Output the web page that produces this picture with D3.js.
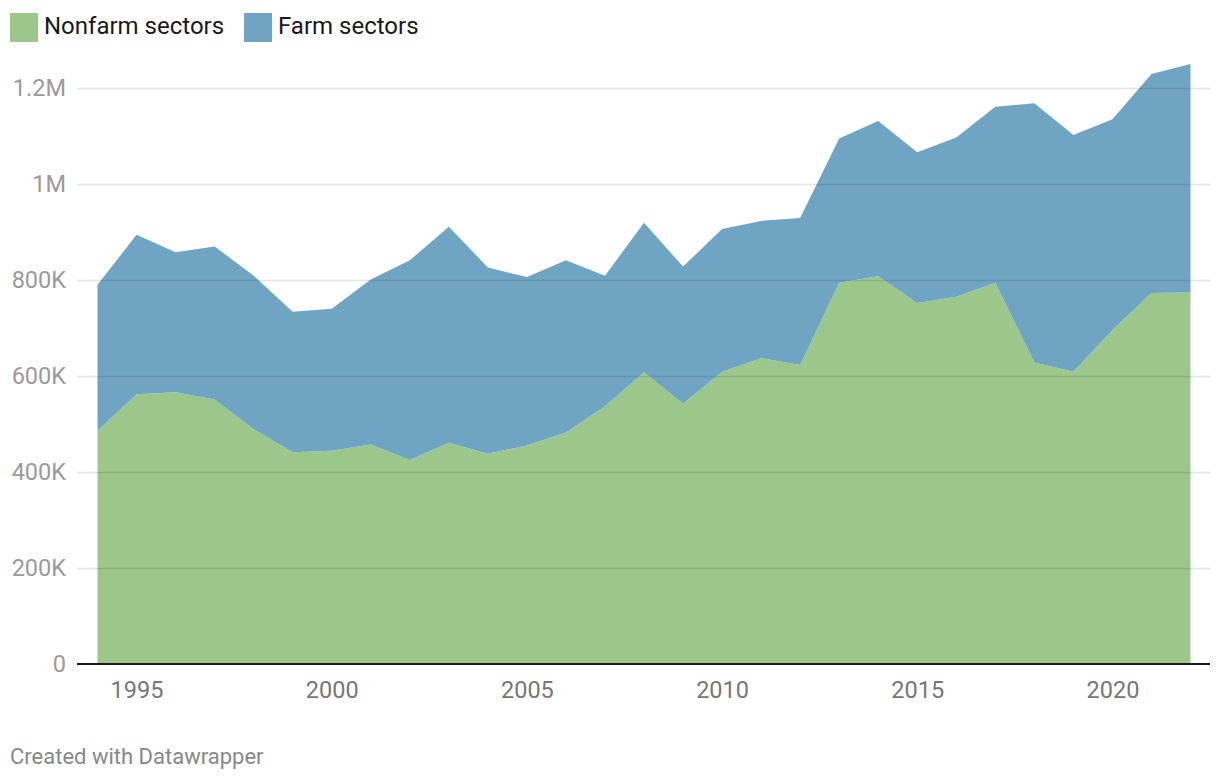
<!DOCTYPE html>
<html><head><meta charset="utf-8">
<script src="https://cdn.jsdelivr.net/npm/d3@7"></script>
<style>
body{margin:0;background:#fff;font-family:Roboto,sans-serif;}
svg{display:block;}
</style></head>
<body>
<svg id="chart" width="1220" height="782"></svg>
<script>
const years = [1994,1995,1996,1997,1998,1999,2000,2001,2002,2003,2004,2005,2006,2007,2008,2009,2010,2011,2012,2013,2014,2015,2016,2017,2018,2019,2020,2021,2022];
const nonfarm = [485000,561000,565000,550000,488000,440000,443000,456000,424000,460000,437000,454000,481000,536000,607000,541000,608000,636000,622000,793000,807000,751000,764000,793000,627000,608000,695000,772000,773000];
const farm = [304000,332000,292000,319000,320000,293000,296000,344000,416000,450000,388000,351000,359000,272000,311000,286000,297000,286000,306000,301000,323000,314000,332000,367000,540000,493000,439000,456000,476000];
const seriesNames = ["Nonfarm sectors","Farm sectors"];
const seriesColors = ["#9bc78b","#6fa5c2"];
const yTicks = [0,200000,400000,600000,800000,1000000,1200000];
const yTickLabels = ["0","200K","400K","600K","800K","1M","1.2M"];
const xTicks = [1995,2000,2005,2010,2015,2020];

const svg = d3.select("#chart");
const x = d3.scaleLinear().domain([1994,2022]).range([97.5,1190.5]);
const y = d3.scaleLinear().domain([0,1200000]).range([663.5,87.5]);

const rows = years.map((yr,i)=>({year:yr, nonfarm:nonfarm[i], farm:farm[i]}));
const stack = d3.stack().keys(["nonfarm","farm"])(rows);

const area = d3.area().x(d=>x(d.data.year)).y0(d=>y(d[0])).y1(d=>y(d[1]));
svg.append("g").selectAll("path").data(stack).join("path")
  .attr("d",area).attr("fill",(d,i)=>seriesColors[i]);

// gridlines
const grid = svg.append("g");
grid.selectAll("line").data(yTicks.filter(t=>t>0)).join("line")
  .attr("x1",77).attr("x2",1210)
  .attr("y1",d=>Math.round(y(d))+0.5).attr("y2",d=>Math.round(y(d))+0.5)
  .attr("stroke","rgba(0,0,0,0.1)").attr("stroke-width",1.6);

// y labels
const yAxis = d3.axisLeft(y).tickValues(yTicks).tickFormat((d,i)=>yTickLabels[i]).tickSize(0).tickPadding(0);
const yg = svg.append("g").attr("transform","translate(66,0)").call(yAxis);
yg.select(".domain").remove();
yg.selectAll("text").attr("font-family","Roboto").attr("font-size",23.5).attr("fill","#9a9a9a").attr("dy","0.35em");

// baseline
svg.append("line").attr("x1",77).attr("x2",1210).attr("y1",y(0)+0.5).attr("y2",y(0)+0.5)
  .attr("stroke","#1a1a1a").attr("stroke-width",2);

// x labels
const xAxis = d3.axisBottom(x).tickValues(xTicks).tickFormat(d3.format("d")).tickSize(0).tickPadding(0);
const xg = svg.append("g").attr("transform","translate(0,681)").call(xAxis);
xg.select(".domain").remove();
xg.selectAll("text").attr("font-family","Roboto").attr("font-size",23.5).attr("fill","#777").attr("dy","0.71em");

// legend
const leg = svg.append("g");
const legX = [10,244];
seriesNames.forEach((n,i)=>{
  leg.append("rect").attr("x",legX[i]).attr("y",13).attr("width",28).attr("height",29).attr("fill",seriesColors[i]);
  leg.append("text").attr("x",legX[i]+34).attr("y",34).text(n)
    .attr("font-family","Roboto").attr("font-size",24).attr("fill","#1a1a1a");
});

svg.append("text").attr("x",10).attr("y",764).text("Created with Datawrapper")
  .attr("font-family","Roboto").attr("font-size",22).attr("fill","#888");
</script>
</body></html>
